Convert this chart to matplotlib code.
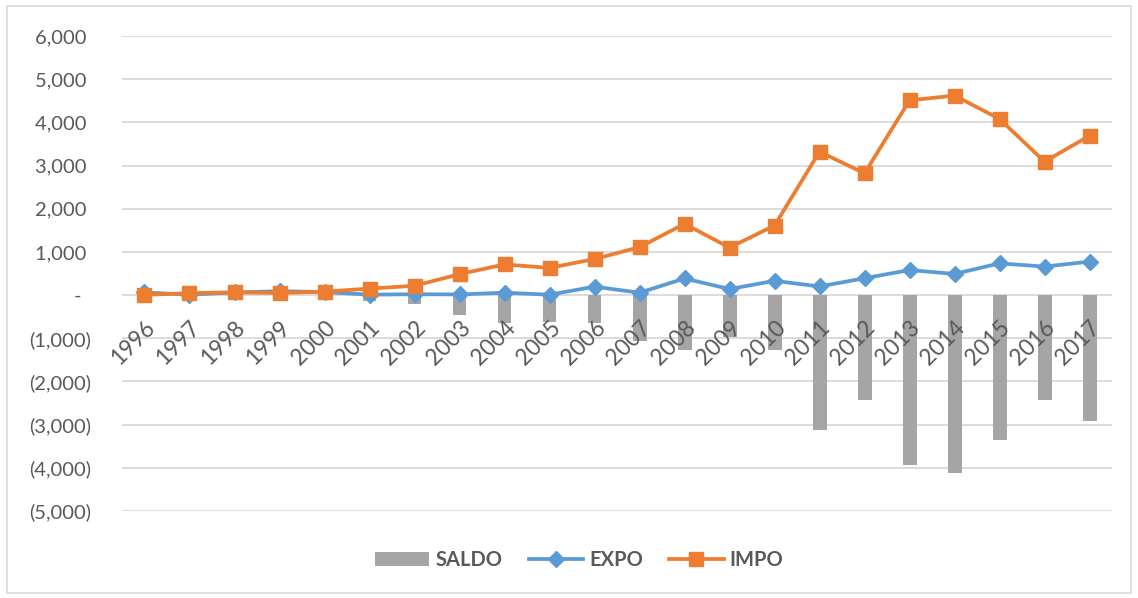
import matplotlib.pyplot as plt
from matplotlib.patches import Rectangle
from matplotlib.ticker import FuncFormatter
import numpy as np

# data
anos = [str(a) for a in range(1996, 2018)]
expo = [60, 10, 60, 90, 70, 10, 20, 15, 55, 10, 195, 55, 385, 140, 330,
        200, 390, 580, 490, 735, 660, 775]
impo = [5, 45, 65, 50, 80, 150, 215, 485, 710, 630, 835, 1110, 1650, 1100,
        1610, 3320, 2820, 4510, 4620, 4080, 3090, 3690]
saldo = [55, -35, -5, 40, -10, -140, -195, -470, -655, -620, -640, -1055,
         -1265, -960, -1280, -3120, -2430, -3930, -4130, -3345, -2430, -2915]
yticks = list(range(-5000, 7000, 1000))

cinza_txt = '#595959'
plt.rcParams['font.family'] = ['Lato', 'DejaVu Sans']


def fmt(v, pos=None):
    if v == 0:
        return '-  '
    if v < 0:
        return '({:,.0f})'.format(-v)
    return '{:,.0f} '.format(v)


fig = plt.figure(figsize=(11.38, 5.98), dpi=100)
fig.patches.append(Rectangle((0.006, 0.008), 0.988, 0.982, transform=fig.transFigure,
                             fill=False, edgecolor='#D9D9D9', linewidth=1.2))
ax = fig.add_axes([0.1072, 0.1455, 0.87, 0.7943])

x = np.arange(len(anos))
for t in yticks:
    ax.axhline(t, color='#D9D9D9', linewidth=1.3, zorder=0)

barras = ax.bar(x, saldo, width=0.31, color='#A5A5A5', label='SALDO', zorder=2)
l_expo, = ax.plot(x, expo, color='#5B9BD5', linewidth=2.7, marker='D', markersize=8.5,
                  label='EXPO', zorder=4)
l_impo, = ax.plot(x, impo, color='#ED7D31', linewidth=2.7, marker='s', markersize=10,
                  label='IMPO', zorder=5)

# rotated year labels hanging under the zero line
for xi, ano in zip(x, anos):
    ax.text(xi + 0.0, -500, ano, rotation=45, rotation_mode='anchor',
            ha='right', va='top', fontsize=16.3, color=cinza_txt, zorder=6)

ax.set_xlim(-0.5, len(anos) - 0.5)
ax.set_ylim(-5000, 6000)
ax.set_yticks(yticks)
ax.yaxis.set_major_formatter(FuncFormatter(fmt))
ax.tick_params(axis='y', length=0, pad=22, labelsize=14.5, labelcolor=cinza_txt)
ax.set_xticks([])
for s in ax.spines.values():
    s.set_visible(False)

leg = fig.legend([barras, l_expo, l_impo], ['SALDO', 'EXPO', 'IMPO'],
                 loc='center', bbox_to_anchor=(0.509, 0.064), ncol=3, frameon=False,
                 handlelength=2.7, handletextpad=0.3, columnspacing=1.3,
                 prop={'size': 14.5, 'weight': 'bold'})
for t in leg.get_texts():
    t.set_color(cinza_txt)

fig.savefig('out.png', dpi=100)
